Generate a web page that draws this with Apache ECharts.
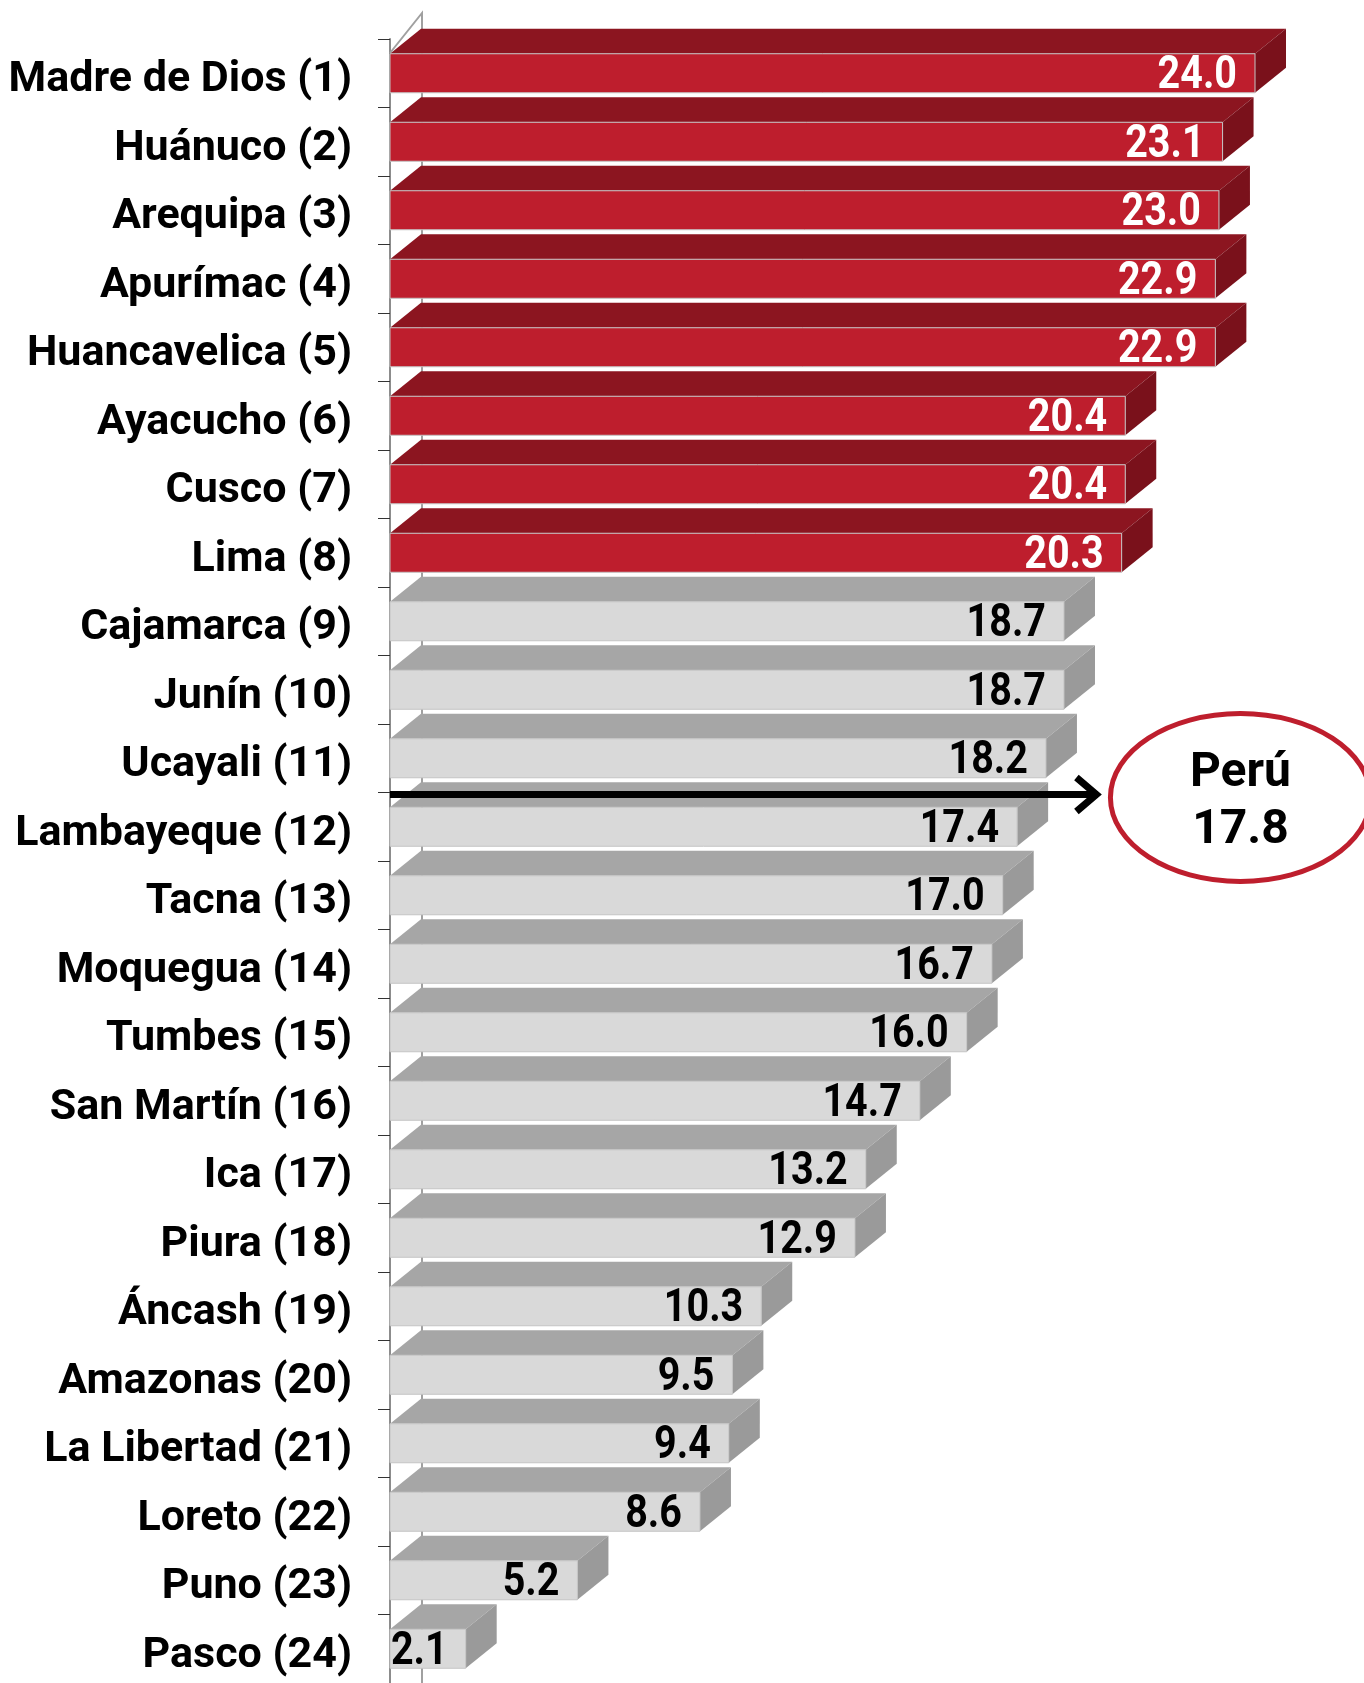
<!DOCTYPE html>
<html>
<head>
    <meta charset="utf-8">
    <script src="https://cdn.jsdelivr.net/npm/echarts@6/dist/echarts.min.js"></script>
</head>
<body style="margin:0;background:#fff">
    <div id="main" style="width:1364px;height:1683px;"></div>
    <script type="text/javascript">
        // regiones y valores (orden del ranking)
        var regiones = ['Madre de Dios (1)', 'Huánuco (2)', 'Arequipa (3)', 'Apurímac (4)', 'Huancavelica (5)',
            'Ayacucho (6)', 'Cusco (7)', 'Lima (8)', 'Cajamarca (9)', 'Junín (10)', 'Ucayali (11)',
            'Lambayeque (12)', 'Tacna (13)', 'Moquegua (14)', 'Tumbes (15)', 'San Martín (16)', 'Ica (17)',
            'Piura (18)', 'Áncash (19)', 'Amazonas (20)', 'La Libertad (21)', 'Loreto (22)', 'Puno (23)',
            'Pasco (24)'];
        var valores = [24.0, 23.1, 23.0, 22.9, 22.9, 20.4, 20.4, 20.3, 18.7, 18.7, 18.2, 17.4, 17.0, 16.7,
            16.0, 14.7, 13.2, 12.9, 10.3, 9.5, 9.4, 8.6, 5.2, 2.1];
        var destacados = 8;           // primeras regiones en rojo
        var peru = 17.8;
        var peruPosicion = 10;        // linea bajo Ucayali (11)
        var peruFlecha = 19.6;        // hasta donde llega la flecha

        var DX = 31, DY = 25, FRENTE = 39;
        var rojo = ['#BE1E2D', '#8C1520', '#7A111B'];
        var gris = ['#D9D9D9', '#A6A6A6', '#9A9A9A'];

        var datos = valores.map(function (v, i) { return [v, i]; });

        function barra3d(params, api) {
            var i = api.value(1);
            var fin = api.coord([api.value(0), i]);
            var ini = api.coord([0, i]);
            var x0 = ini[0], x1 = fin[0];
            var yt = fin[1] - FRENTE / 2, yb = fin[1] + FRENTE / 2;
            var c = i < destacados ? rojo : gris;
            return {
                type: 'group',
                children: [
                    { type: 'polygon', shape: { points: [[x0, yt], [x0 + DX, yt - DY], [x1 + DX, yt - DY], [x1, yt]] },
                      style: { fill: c[1] } },
                    { type: 'polygon', shape: { points: [[x1, yt], [x1 + DX, yt - DY], [x1 + DX, yb - DY], [x1, yb]] },
                      style: { fill: c[2] } },
                    { type: 'rect', shape: { x: x0, y: yt, width: x1 - x0, height: FRENTE },
                      style: { fill: c[0], stroke: '#c4c4c4', lineWidth: 1 } },
                    { type: 'text', x: x1 - 18, y: fin[1] + 3, scaleX: 0.84,
                      style: { text: api.value(0).toFixed(1), align: 'right', verticalAlign: 'middle',
                               fill: i < destacados ? '#fff' : '#000',
                               font: 'bold 47px Roboto, "DejaVu Sans Condensed", sans-serif' } }
                ]
            };
        }

        function pared(params, api) {
            var top = api.coord([0, 0]);
            var band = api.size([0, 1])[1];
            var y0 = top[1] - band / 2;
            var x0 = top[0];
            return {
                type: 'group',
                children: [
                    { type: 'polyline', shape: { points: [[x0, y0 + 14], [x0 + DX + 1, y0 - 26], [x0 + DX + 1, 1683]] },
                      style: { stroke: '#a0a0a0', lineWidth: 2, fill: null } }
                ]
            };
        }

        function flechaPeru(params, api) {
            var p = api.coord([api.value(0), api.value(1)]);
            var band = api.size([0, 1])[1];
            var y = p[1] + band / 2 + 2;
            var x0 = api.coord([0, 0])[0];
            var tip = p[0];
            var cx = tip + 144, cy = y + 3;
            return {
                type: 'group',
                children: [
                    { type: 'line', shape: { x1: x0, y1: y, x2: tip - 3, y2: y },
                      style: { stroke: '#000', lineWidth: 7 } },
                    { type: 'polyline', shape: { points: [[tip - 20, y - 17], [tip, y], [tip - 20, y + 17]] },
                      style: { stroke: '#000', lineWidth: 7, fill: null } },
                    { type: 'ellipse', shape: { cx: cx, cy: cy, rx: 130, ry: 84 },
                      style: { stroke: '#BE1E2D', lineWidth: 5, fill: '#fff' } },
                    { type: 'text', x: cx, y: cy - 24,
                      style: { text: 'Perú', align: 'center', verticalAlign: 'middle', fill: '#000',
                               font: 'bold 48px Roboto, sans-serif' } },
                    { type: 'text', x: cx, y: cy + 33,
                      style: { text: peru.toFixed(1), align: 'center', verticalAlign: 'middle', fill: '#000',
                               font: 'bold 48px Roboto, sans-serif' } }
                ]
            };
        }

        var myChart = echarts.init(document.getElementById('main'));
        var option = {
            animation: false,
            backgroundColor: '#fff',
            grid: { left: 390, top: 39, width: 865, height: 1649 },
            xAxis: { type: 'value', min: 0, max: 24, show: false },
            yAxis: {
                type: 'category',
                inverse: true,
                data: regiones,
                axisLine: { show: true, lineStyle: { color: '#8c8c8c', width: 2 } },
                axisTick: { show: true, length: 12, lineStyle: { color: '#333', width: 1 } },
                axisLabel: { margin: 38, color: '#000', fontSize: 43, fontWeight: 'bold', fontFamily: 'Roboto',
                             verticalAlign: 'top', lineHeight: 14 },
                splitLine: { show: false }
            },
            series: [
                { type: 'custom', renderItem: pared, data: [[0, 0]], z: 1, silent: true },
                { type: 'custom', renderItem: barra3d, data: datos, z: 2 },
                { type: 'custom', renderItem: flechaPeru, data: [[peruFlecha, peruPosicion]], z: 3, silent: true }
            ]
        };
        myChart.setOption(option);
    </script>
</body>
</html>
